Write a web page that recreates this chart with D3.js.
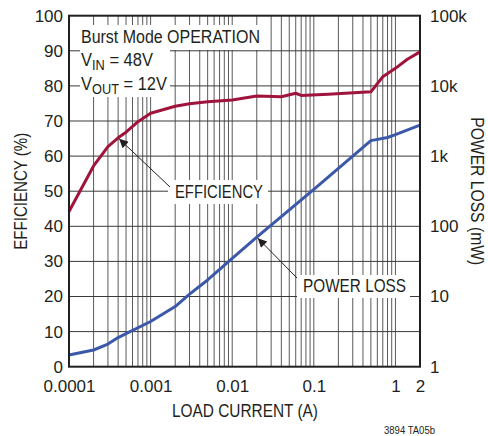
<!DOCTYPE html>
<html>
<head>
<meta charset="utf-8">
<script src="https://cdn.jsdelivr.net/npm/d3@7"></script>
<style>
  html, body { margin: 0; padding: 0; background: #fff; }
  svg { display: block; }
  text { font-family: "Liberation Sans", Arial, sans-serif; fill: #231f20; }
</style>
</head>
<body>
<svg id="chart" width="488" height="436"></svg>
<script>
// Efficiency vs load current (left axis, %)
const effCurrent = [0.0001, 0.0002, 0.0003, 0.0004, 0.0005, 0.0007, 0.001, 0.002, 0.003, 0.005, 0.01, 0.02, 0.04, 0.06, 0.07, 0.15, 0.5, 0.7, 1, 1.4, 2];
const efficiency = [44.2, 57.2, 62.7, 65.2, 66.8, 69.8, 72.2, 74.2, 74.9, 75.5, 76.0, 77.1, 76.9, 77.9, 77.3, 77.6, 78.3, 82.6, 85.0, 87.6, 89.7];

// Power loss vs load current (right axis, mW, log)
const lossCurrent = [0.0001, 0.0002, 0.0003, 0.0004, 0.0005, 0.001, 0.002, 0.003, 0.005, 0.01, 0.02, 0.1, 0.5, 0.8, 1, 2];
const powerLoss = [1.47, 1.73, 2.1, 2.6, 2.95, 4.4, 7.2, 10.8, 17.2, 35, 70, 335, 1660, 1840, 2025, 2770];

// Axis ticks
const xTickValues = [0.0001, 0.001, 0.01, 0.1, 1, 2];
const xTickLabels = ["0.0001", "0.001", "0.01", "0.1", "1", "2"];
const yLeftTicks = [0, 10, 20, 30, 40, 50, 60, 70, 80, 90, 100];
const yRightTicks = [1, 10, 100, 1000, 10000, 100000];
const yRightLabels = ["1", "10", "100", "1k", "10k", "100k"];

const svg = d3.select("#chart");
const m = { left: 69, right: 420, top: 15.7, bottom: 366.7 };

const x = d3.scaleLog().domain([0.0001, 2]).range([m.left, m.right]);
const yL = d3.scaleLinear().domain([0, 100]).range([m.bottom, m.top]);
const yR = d3.scaleLog().domain([1, 100000]).range([m.bottom, m.top]);

// Vertical grid: every 1..9 step of each decade
const vGrid = [];
for (let e = -4; e <= 0; e++) {
  for (let k = 1; k <= 9; k++) {
    const v = k * Math.pow(10, e);
    if (v > 0.0001 && v < 2) vGrid.push(+v.toPrecision(3));
  }
}

const grid = svg.append("g");
grid.selectAll("line.v").data(vGrid).join("line")
  .attr("x1", d => x(d)).attr("x2", d => x(d))
  .attr("y1", m.top).attr("y2", m.bottom)
  .attr("stroke", "#5a5a5a").attr("stroke-width", 1);
grid.selectAll("line.h").data(yLeftTicks.slice(1, -1)).join("line")
  .attr("x1", m.left).attr("x2", m.right)
  .attr("y1", d => yL(d)).attr("y2", d => yL(d))
  .attr("stroke", "#3a3a3a").attr("stroke-width", 1);

// Label backgrounds that mask the grid
const masks = [
  [80, 25, 262, 50],
  [80, 50, 170, 97],
  [168, 180, 268, 204],
  [297, 275, 410, 298]
];
svg.append("g").selectAll("rect").data(masks).join("rect")
  .attr("x", d => d[0]).attr("y", d => d[1])
  .attr("width", d => d[2] - d[0]).attr("height", d => d[3] - d[1])
  .attr("fill", "#fff");

// Curves
const effLine = d3.line().x(d => x(d[0])).y(d => yL(d[1]));
const lossLine = d3.line().x(d => x(d[0])).y(d => yR(d[1]));

svg.append("path")
  .datum(effCurrent.map((c, i) => [c, efficiency[i]]))
  .attr("d", effLine).attr("fill", "none")
  .attr("stroke", "#a0143c").attr("stroke-width", 3).attr("stroke-linejoin", "round");

svg.append("path")
  .datum(lossCurrent.map((c, i) => [c, powerLoss[i]]))
  .attr("d", lossLine).attr("fill", "none")
  .attr("stroke", "#3b59a8").attr("stroke-width", 3).attr("stroke-linejoin", "round");

// Frame
svg.append("rect")
  .attr("x", m.left).attr("y", m.top)
  .attr("width", m.right - m.left).attr("height", m.bottom - m.top)
  .attr("fill", "none").attr("stroke", "#231f20").attr("stroke-width", 2);

// Axes (labels only, frame drawn above)
const fs = 17;
const axL = svg.append("g").attr("transform", `translate(${m.left},0)`)
  .call(d3.axisLeft(yL).tickValues(yLeftTicks).tickSize(0).tickPadding(6));
const axR = svg.append("g").attr("transform", `translate(${m.right},0)`)
  .call(d3.axisRight(yR).tickValues(yRightTicks).tickSize(0).tickPadding(10)
    .tickFormat((d, i) => yRightLabels[i]));
const axB = svg.append("g").attr("transform", `translate(0,${m.bottom})`)
  .call(d3.axisBottom(x).tickValues(xTickValues).tickSize(0).tickPadding(13)
    .tickFormat((d, i) => xTickLabels[i]));
[axL, axR, axB].forEach(a => {
  a.select(".domain").remove();
  a.selectAll("text").attr("font-size", fs).attr("fill", "#231f20")
    .style("font-family", '"Liberation Sans", Arial, sans-serif');
});

// Condensed text: squeeze a text element to a given width
function condensed(sel, width) {
  return sel.attr("textLength", width).attr("lengthAdjust", "spacingAndGlyphs");
}

// Axis titles
condensed(svg.append("text").attr("x", 245).attr("y", 417)
  .attr("text-anchor", "middle").attr("font-size", 18).text("LOAD CURRENT (A)"), 146);
condensed(svg.append("text")
  .attr("transform", `translate(27,${(m.top + m.bottom) / 2}) rotate(-90)`)
  .attr("text-anchor", "middle").attr("font-size", 18).text("EFFICIENCY (%)"), 117);
condensed(svg.append("text")
  .attr("transform", `translate(471,${(m.top + m.bottom) / 2}) rotate(90)`)
  .attr("text-anchor", "middle").attr("font-size", 18).text("POWER LOSS (mW)"), 148);

// Operating conditions
condensed(svg.append("text").attr("x", 81).attr("y", 43).attr("font-size", 18)
  .text("Burst Mode OPERATION"), 179);

function subscripted(y, main, sub, rest, width) {
  const g = svg.append("g").attr("transform", `translate(81,${y})`);
  const t = g.append("text").attr("font-size", 18);
  t.append("tspan").text(main);
  t.append("tspan").attr("dy", 4).attr("font-size", 14).text(sub);
  t.append("tspan").attr("dy", -4).text(rest);
  const w = t.node().getComputedTextLength();
  g.attr("transform", `translate(81,${y}) scale(${width / w},1)`);
}
subscripted(66, "V", "IN", " = 48V", 72);
subscripted(90, "V", "OUT", " = 12V", 86);

// Annotations with arrows
svg.append("defs").append("marker")
  .attr("id", "arrow").attr("viewBox", "0 0 10 10")
  .attr("refX", 10).attr("refY", 5)
  .attr("markerWidth", 15).attr("markerHeight", 9)
  .attr("markerUnits", "userSpaceOnUse")
  .attr("orient", "auto")
  .append("path").attr("d", "M0,0 L10,5 L0,10 Z").attr("fill", "#231f20");

const effAt = 0.0004, lossAt = 0.02;
svg.append("line")
  .attr("x1", 170).attr("y1", 187)
  .attr("x2", x(effAt) + 1).attr("y2", yL(efficiency[effCurrent.indexOf(effAt)]) + 1)
  .attr("stroke", "#231f20").attr("stroke-width", 1).attr("marker-end", "url(#arrow)");
condensed(svg.append("text").attr("x", 175).attr("y", 198).attr("font-size", 18).text("EFFICIENCY"), 88);

svg.append("line")
  .attr("x1", 297).attr("y1", 278)
  .attr("x2", x(lossAt) + 1).attr("y2", yR(powerLoss[lossCurrent.indexOf(lossAt)]) + 1)
  .attr("stroke", "#231f20").attr("stroke-width", 1).attr("marker-end", "url(#arrow)");
condensed(svg.append("text").attr("x", 303).attr("y", 292).attr("font-size", 18).text("POWER LOSS"), 103);

// Figure reference
condensed(svg.append("text").attr("x", 384).attr("y", 434).attr("font-size", 10).text("3894 TA05b"), 51);
</script>
</body>
</html>
